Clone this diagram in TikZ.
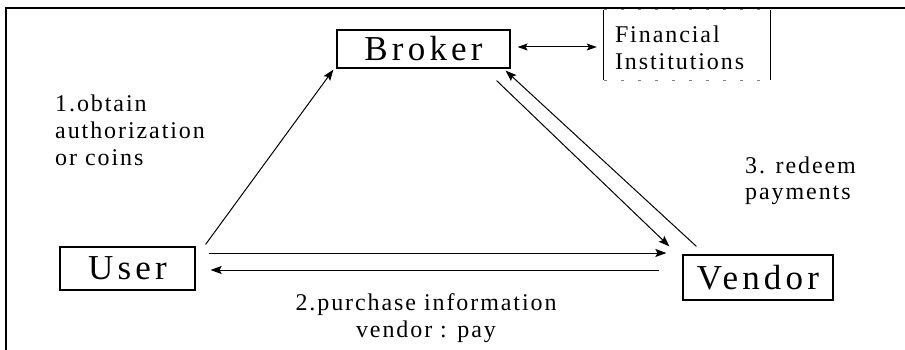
\documentclass[tikz,border=0pt]{standalone}
\usepackage{fontspec}
\setmainfont{Liberation Serif}
\newfontfamily\lblfont[LetterSpace=8]{Liberation Serif}
\newfontfamily\boxfont[LetterSpace=12]{Liberation Serif}
\usetikzlibrary{arrows.meta,calc}

\begin{document}
\begin{tikzpicture}[x=1pt,y=-1pt,
  entity/.style={draw, line width=1.2pt, inner sep=0pt,
    font=\boxfont\fontsize{35}{38}\selectfont},
  lbl/.style={inner sep=0pt, font=\lblfont\fontsize{24}{27}\selectfont},
  arr/.style={line width=1pt, -{Stealth[length=11pt,width=8pt,inset=2pt]}},
  dblarr/.style={line width=1pt, {Stealth[length=10pt,width=7pt,inset=2pt]}-{Stealth[length=10pt,width=7pt,inset=2pt]}}]

\useasboundingbox (0,0) rectangle (905,350);

% outer frame (left and top edges only)
\draw[line width=1.5pt] (6,350) -- (6,8) -- (905,8);

% entities
\node[entity, minimum width=173pt, minimum height=38pt] (broker) at (423.5,49) {Broker};
\node[entity, minimum width=135pt, minimum height=43pt] (user) at (127.5,268.5) {User};
\node[entity, minimum width=150pt, minimum height=45pt] (vendor) at (758,277.5) {Vendor};

% financial institutions: solid sides, broken top and bottom
\node[minimum width=166pt, minimum height=70pt, inner sep=0pt] (fin) at (687,45) {};
\node[lbl, anchor=base west, align=left] (fintxt) at ($(fin.west)+(11,25)$) {Financial\\Institutions};
\draw[line width=0.8pt] (fin.north west) -- (fin.south west);
\draw[line width=0.8pt] (fin.north east) -- (fin.south east);
\draw[line width=0.8pt, gray, dash pattern=on 3pt off 14pt] (fin.north west) -- (fin.north east);
\draw[line width=0.8pt, gray, dash pattern=on 3pt off 14pt] (fin.south west) -- (fin.south east);

% broker <-> financial institutions
\draw[dblarr] ($(broker.east)+(7,-2)$) -- ($(fin.west |- broker.east)+(-7,-2)$);

% user <-> vendor
\draw[arr] ($(user.east)+(13,-15.5)$) -- ($(vendor.west |- user.east)+(-16,-15.5)$);
\draw[arr] ($(vendor.west |- user.east)+(-23,1.5)$) -- ($(user.east)+(15,1.5)$);

% user -> broker
\draw[arr] ($(user.north east)+(10,-2)$) -- ($(broker.south west)+(-3,1)$);

% broker <-> vendor
\draw[arr] ($(vendor.north west)+(14,-8)$) -- ($(broker.south east)+(-5,2)$);
\draw[arr] ($(broker.south east)+(-14,12)$) -- ($(vendor.north west)+(-13,-8)$);

% labels (anchored on the baseline of their last line)
\node[lbl, anchor=base west, align=left] (l1) at (55,165) {1.obtain\\authorization\\or coins};
\node[lbl, anchor=base, align=center] (l2) at (426,337) {2.purchase information\\vendor : pay};
\node[lbl, anchor=base west, align=left] (l3) at (745,200) {3. redeem\\payments};

\end{tikzpicture}
\end{document}
